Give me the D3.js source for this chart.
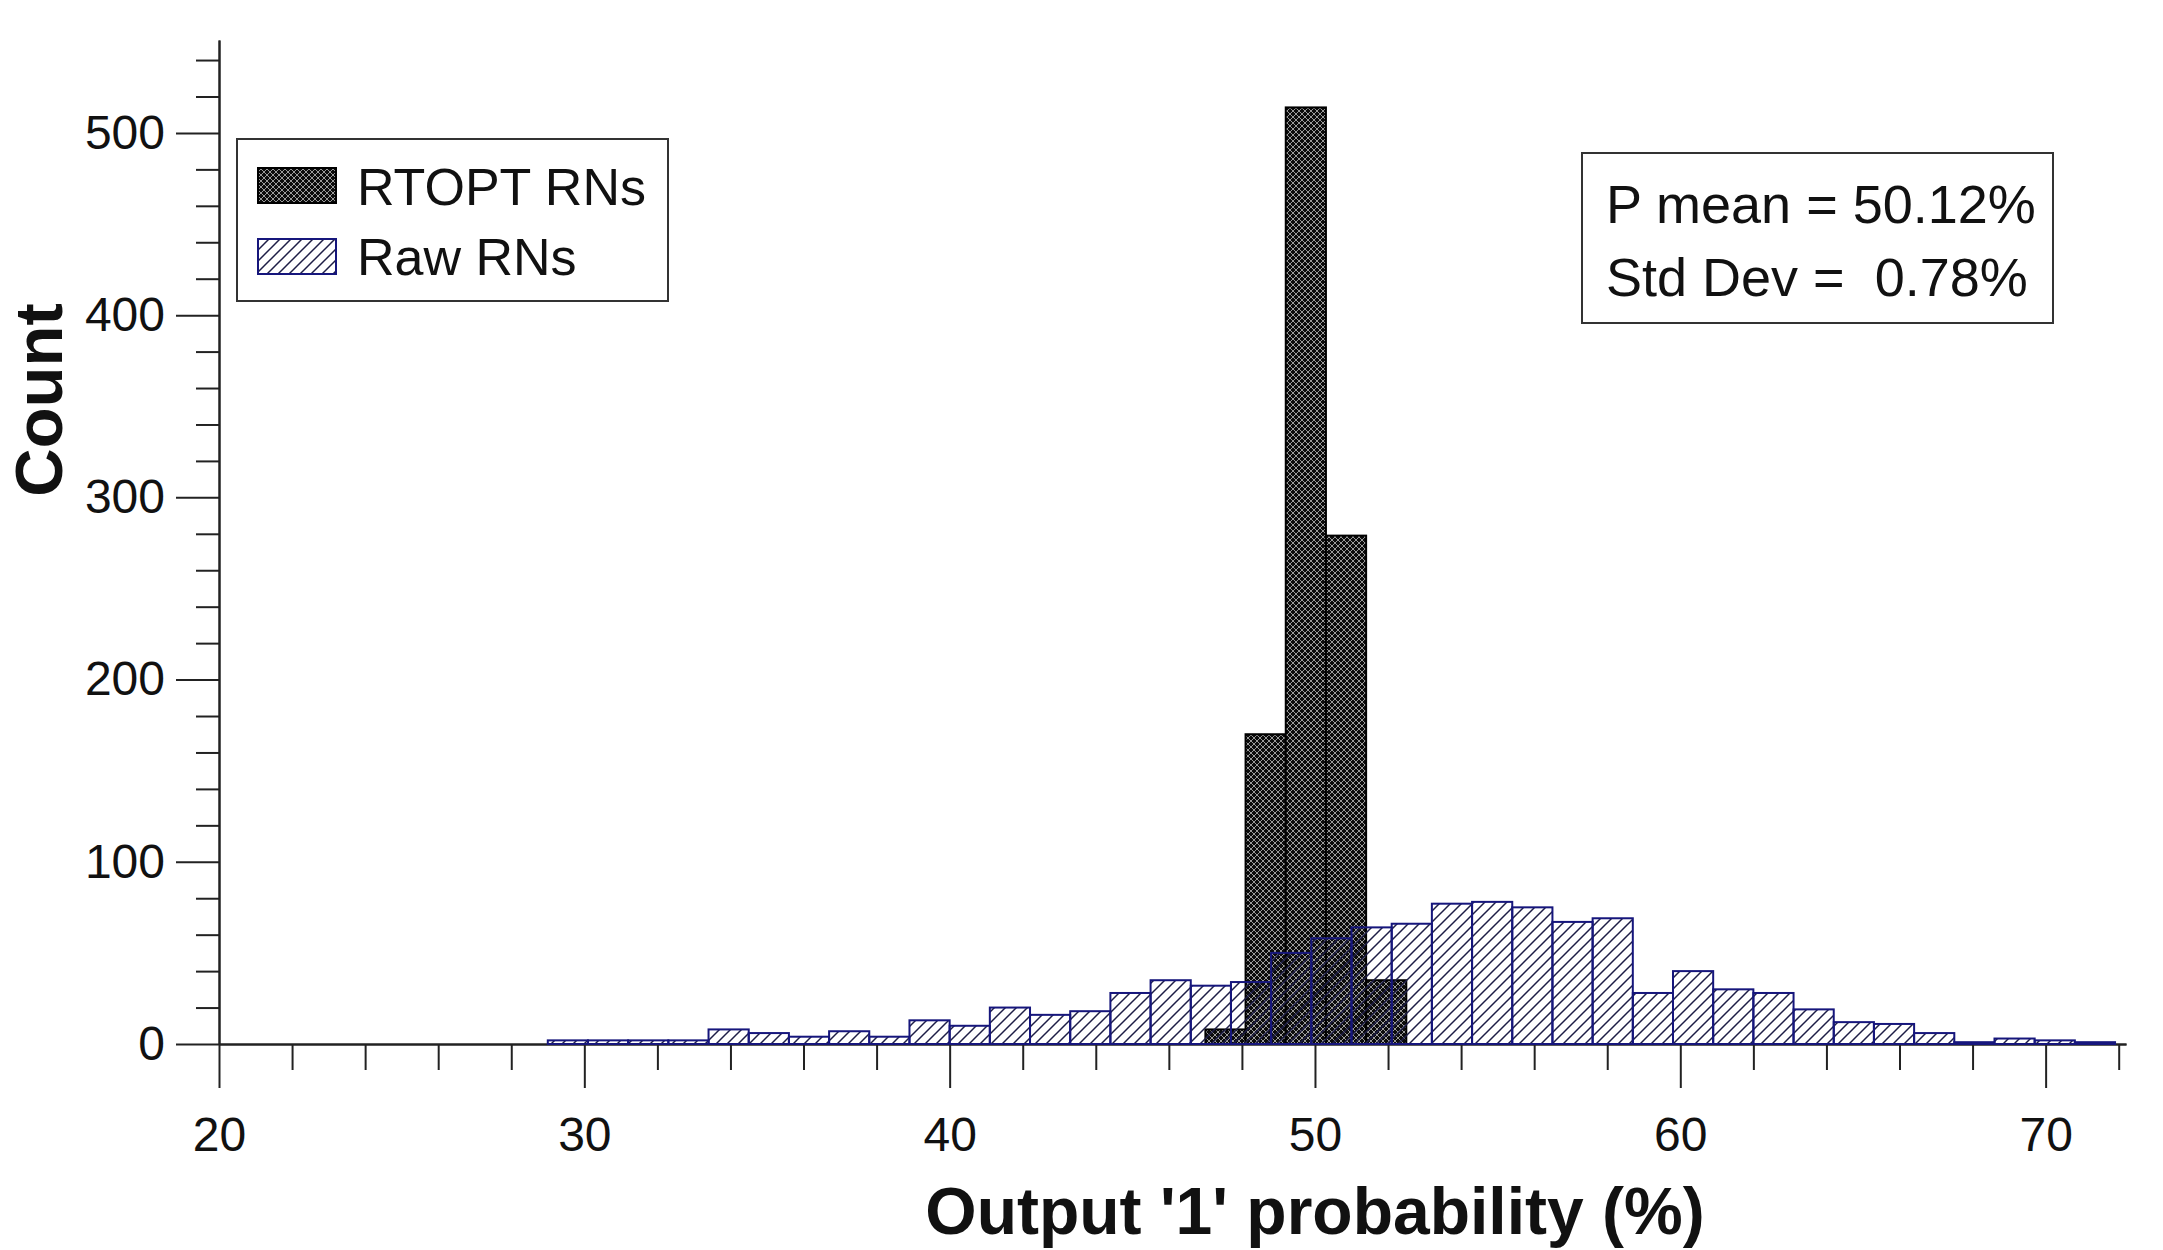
<!DOCTYPE html>
<html>
<head>
<meta charset="utf-8">
<script src="https://cdn.jsdelivr.net/npm/d3@7"></script>
<style>
  body { margin: 0; background: #fff; }
  svg text { font-family: "Liberation Sans", Arial, sans-serif; fill: #111; }
</style>
</head>
<body>
<svg width="2163" height="1250"></svg>
<script>
// histogram bins (in %), both series use 1.1 % wide bins
const binWidth = 1.1;
const rawStart = 29.0;
const rtoptStart = 47.0;

// counts
const rawCounts = [2, 2, 2, 2, 8, 6, 4, 7, 4, 13,
                   10, 20, 16, 18, 28, 35, 32, 34, 50, 58,
                   64, 66, 77, 78, 75, 67, 69, 28, 40, 30,
                   28, 19, 12, 11, 6, 1, 3, 2, 1];
const rtoptCounts = [8, 170, 514, 279, 35];

const xMajorTicks = [20, 30, 40, 50, 60, 70];
const yMajorTicks = [0, 100, 200, 300, 400, 500];
const legendLabels = ["RTOPT RNs", "Raw RNs"];
const statLines = ["P mean = 50.12%", "Std Dev =  0.78%"];

const svg = d3.select("svg");

const x = d3.scaleLinear().domain([20, 72.2]).range([219, 2126]);
const y = d3.scaleLinear().domain([0, 551]).range([1044, 40]);

// patterns
const defs = svg.append("defs");
const cross = defs.append("pattern")
    .attr("id", "cross")
    .attr("patternUnits", "userSpaceOnUse")
    .attr("width", 6).attr("height", 6);
cross.append("rect").attr("width", 6).attr("height", 6).attr("fill", "#0b0b0b");
cross.append("path")
    .attr("d", "M0,0L6,6M6,0L0,6")
    .attr("stroke", "#d8d8d8")
    .attr("stroke-width", 0.7);

const hatch = defs.append("pattern")
    .attr("id", "hatch")
    .attr("patternUnits", "userSpaceOnUse")
    .attr("width", 11).attr("height", 11);
hatch.append("path")
    .attr("d", "M0,11L11,0M-2,2L2,-2M9,13L13,9")
    .attr("stroke", "#1e1e46")
    .attr("stroke-width", 1.5);

// axes
const axisColor = "#222";
function styleAxis(g) {
    g.selectAll("path, line").attr("stroke", axisColor).attr("stroke-width", 2);
}

const yMinor = d3.range(0, 541, 20).filter(v => v % 100 !== 0);
svg.append("g")
    .attr("transform", `translate(${x(20)},0)`)
    .call(d3.axisLeft(y).tickValues(yMinor).tickSize(23).tickSizeOuter(0).tickFormat(""))
    .call(styleAxis);
svg.append("g")
    .attr("transform", `translate(${x(20)},0)`)
    .call(d3.axisLeft(y).tickValues(yMajorTicks).tickSize(43).tickSizeOuter(0).tickPadding(11))
    .call(styleAxis)
    .call(g => g.selectAll("text").attr("font-size", 48).attr("fill", "#111"));

const xMinor = d3.range(20, 73, 2).filter(v => v % 10 !== 0);
svg.append("g")
    .attr("transform", `translate(0,${y(0)})`)
    .call(d3.axisBottom(x).tickValues(xMinor).tickSize(26).tickSizeOuter(0).tickFormat(""))
    .call(styleAxis);
svg.append("g")
    .attr("transform", `translate(0,${y(0)})`)
    .call(d3.axisBottom(x).tickValues(xMajorTicks).tickSize(44).tickSizeOuter(0).tickPadding(29))
    .call(styleAxis)
    .call(g => g.selectAll("text").attr("font-size", 48).attr("fill", "#111"));

// bars: RTOPT first, raw on top with see-through hatch
svg.append("g").selectAll("rect")
    .data(rtoptCounts)
    .join("rect")
    .attr("x", (d, i) => x(rtoptStart + i * binWidth))
    .attr("width", (d, i) => x(rtoptStart + (i + 1) * binWidth) - x(rtoptStart + i * binWidth))
    .attr("y", d => y(d))
    .attr("height", d => y(0) - y(d))
    .attr("fill", "url(#cross)")
    .attr("stroke", "#000")
    .attr("stroke-width", 2);

svg.append("g").selectAll("rect")
    .data(rawCounts)
    .join("rect")
    .attr("x", (d, i) => x(rawStart + i * binWidth))
    .attr("width", (d, i) => x(rawStart + (i + 1) * binWidth) - x(rawStart + i * binWidth))
    .attr("y", d => y(d))
    .attr("height", d => y(0) - y(d))
    .attr("fill", "url(#hatch)")
    .attr("stroke", "#16167c")
    .attr("stroke-width", 2);

// axis titles
svg.append("text")
    .attr("transform", "translate(62,400) rotate(-90)")
    .attr("text-anchor", "middle")
    .attr("font-size", 67)
    .attr("font-weight", "bold")
    .text("Count");

svg.append("text")
    .attr("x", 1315)
    .attr("y", 1234)
    .attr("text-anchor", "middle")
    .attr("font-size", 66)
    .attr("font-weight", "bold")
    .text("Output '1' probability (%)");

// legend
const legend = svg.append("g").attr("transform", "translate(237,139)");
legend.append("rect")
    .attr("width", 431).attr("height", 162)
    .attr("fill", "#fff").attr("stroke", "#333").attr("stroke-width", 2);
const swatchFill = ["url(#cross)", "url(#hatch)"];
const swatchStroke = ["#000", "#16167c"];
legendLabels.forEach((label, i) => {
    legend.append("rect")
        .attr("x", 21).attr("y", 29 + i * 71)
        .attr("width", 78).attr("height", 35)
        .attr("fill", swatchFill[i]).attr("stroke", swatchStroke[i]).attr("stroke-width", 2);
    legend.append("text")
        .attr("x", 120).attr("y", 66 + i * 70)
        .attr("font-size", 52)
        .text(label);
});

// stats box
const stats = svg.append("g").attr("transform", "translate(1582,153)");
stats.append("rect")
    .attr("width", 471).attr("height", 170)
    .attr("fill", "#fff").attr("stroke", "#333").attr("stroke-width", 2);
statLines.forEach((line, i) => {
    stats.append("text")
        .attr("x", 24).attr("y", 70 + i * 73)
        .attr("font-size", 54)
        .style("white-space", "pre")
        .text(line);
});
</script>
</body>
</html>
